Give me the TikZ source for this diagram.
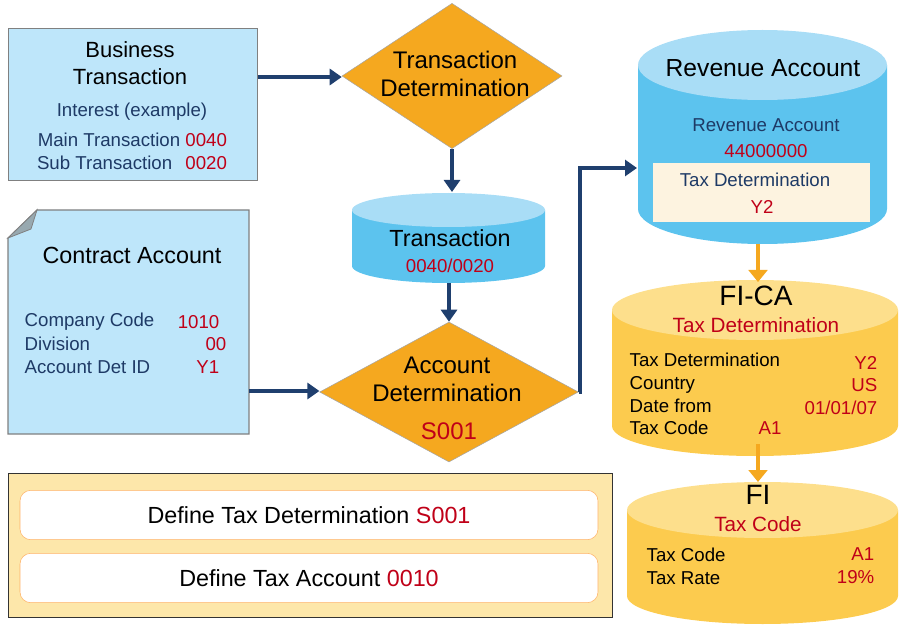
\documentclass[tikz,border=0pt]{standalone}
\usepackage{fontspec}
\setmainfont{Liberation Sans}
\usetikzlibrary{arrows.meta,shapes.geometric}
\definecolor{lb}{HTML}{BEE6FA}
\definecolor{cb}{HTML}{5CC3EE}
\definecolor{cbt}{HTML}{A9DDF6}
\definecolor{org}{HTML}{F5A81F}
\definecolor{yl}{HTML}{FCCB4E}
\definecolor{ylt}{HTML}{FDDF8C}
\definecolor{nv}{HTML}{1F3F6E}
\definecolor{tx}{HTML}{1E3A66}
\definecolor{rd}{HTML}{C00018}
\definecolor{pan}{HTML}{FDE7AA}
\definecolor{cream}{HTML}{FDF3E0}
\newcommand{\rv}[1]{\textcolor{rd}{#1}}
\newcommand{\cyl}[7]{% cx rx ry ytop ybot bodycolor topcolor
  \fill[#6] (#1-#2,#4) -- (#1-#2,#5) arc[start angle=180,end angle=360,x radius=#2,y radius=#3] -- (#1+#2,#4) -- cycle;
  \fill[#7] (#1,#4) ellipse[x radius=#2,y radius=#3];}
\tikzset{
  big/.style={font=\fontsize{17.5}{20}\selectfont},
  med/.style={font=\fontsize{14}{16}\selectfont,text=tx},
  sm/.style={font=\fontsize{14}{17}\selectfont,text=tx},
  dia/.style={diamond,fill=org,draw=gray!70,aspect=1.5,inner sep=0pt},
  blue arrow/.style={draw=nv,line width=2.8pt,-{Triangle[length=9pt,width=12pt]}},
  org arrow/.style={draw=org,line width=2.8pt,-{Triangle[length=9pt,width=14pt]}},
}
\begin{document}
\begin{tikzpicture}[x=0.75pt,y=0.75pt]
\useasboundingbox (0,0) rectangle (904,626);
% Business transaction
\node[draw=gray,fill=lb,minimum width=186.75pt,minimum height=114pt,anchor=north west,line width=0.8pt] (bt) at (8,598) {};
\node[font=\fontsize{16.5}{20}\selectfont,align=center] at (130,563) {Business\\Transaction};
\node[med] at (132,514) {Interest (example)};
\node[med,align=right,font=\fontsize{14}{17}\selectfont] at (132,475) {Main Transaction \rv{0040}\\Sub Transaction\hspace{6pt} \rv{0020}};
% Contract account
\fill[lb,draw=gray,line width=0.8pt] (37,416) -- (249,416) -- (249,192) -- (8,192) -- (8,388) -- cycle;
\fill[gray!60!lb,draw=gray,line width=0.6pt] (37,416) -- (31,397) -- (8,388) -- cycle;
\coordinate (ca) at (249,235);
\node[big] at (132,371) {Contract Account};
\node[sm,anchor=west] at (20,304) {Company Code};
\node[sm,anchor=west] at (20,282) {Division};
\node[sm,anchor=west] at (20,259) {Account Det ID};
\node[sm,anchor=east] at (224,304) {\rv{1010}};
\node[sm,anchor=east] at (231,282) {\rv{00}};
\node[sm,anchor=east] at (224,259) {\rv{Y1}};
% Diamonds
\node[dia,minimum width=165pt,minimum height=109pt] (td) at (452,550) {};
\node[font=\fontsize{18}{21}\selectfont,align=center] at (455,552) {Transaction\\Determination};
\node[dia,minimum width=194pt,minimum height=105pt] (ad) at (449,234) {};
\node[font=\fontsize{18}{21}\selectfont,align=center] at (447,247) {Account\\Determination};
\node[font=\fontsize{18}{18}\selectfont,text=rd] at (449,195) {S001};
% Transaction cylinder
\cyl{448.5}{96.5}{17}{416}{360}{cb}{cbt}
\coordinate (trt) at (452,434);
\coordinate (trb) at (449,343);
\node[big] at (450,388) {Transaction};
\node[sm,text=rd] at (450,360) {0040/0020};
% Revenue account
\cyl{762.5}{124.5}{35}{561}{417}{cb}{cbt}
\node[font=\fontsize{18.5}{20}\selectfont] at (763,558) {Revenue Account};
\fill[cream] (653,463) rectangle (870,404);
\node[med] at (766,501) {Revenue Account};
\node[sm,text=rd] at (766,475) {44000000};
\node[med] at (755,446) {Tax Determination};
\node[sm,text=rd] at (762,419) {Y2};
\coordinate (rvl) at (637,458);
\coordinate (rvb) at (758,382);
% FI-CA
\cyl{755}{143}{30}{316}{200}{yl}{ylt}
\coordinate (fct) at (758,344);
\coordinate (fcb) at (758,182);
\node[font=\fontsize{21}{22}\selectfont] at (756,330) {FI-CA};
\node[text=rd,font=\fontsize{15.5}{17}\selectfont] at (756,301) {Tax Determination};
\node[anchor=west,align=left,font=\fontsize{14}{17}\selectfont] at (625,232) {Tax Determination\\Country\\Date from\\Tax Code};
\node[anchor=east,text=rd,align=right,font=\fontsize{14}{17}\selectfont] at (882,240.5) {Y2\\US\\01/01/07};
\node[text=rd,font=\fontsize{14}{17}\selectfont] at (770,198) {A1};
% FI
\cyl{762.5}{135.5}{28}{116}{30}{yl}{ylt}
\coordinate (fit) at (758,144);
\node[font=\fontsize{21}{22}\selectfont] at (758,131) {FI};
\node[text=rd,font=\fontsize{15.5}{17}\selectfont] at (758,102) {Tax Code};
\node[anchor=west,align=left,font=\fontsize{14}{17}\selectfont] at (642,60) {Tax Code\\Tax Rate};
\node[anchor=east,text=rd,align=right,font=\fontsize{14}{17}\selectfont] at (879,60) {A1\\19\%};
% Panel
\node[draw=black!80,fill=pan,minimum width=453pt,minimum height=108pt,anchor=north west,line width=0.8pt] (pn) at (8,153) {};
\node[draw=orange!60,fill=white,rounded corners=8pt,minimum width=433.5pt,minimum height=37pt,font=\fontsize{17.5}{19}\selectfont] (p1) at (309,111) {Define Tax Determination \rv{S001}};
\node[draw=orange!60,fill=white,rounded corners=8pt,minimum width=433.5pt,minimum height=37pt,font=\fontsize{17.5}{19}\selectfont] (p2) at (309,48) {Define Tax Account \rv{0010}};
% arrows
\draw[blue arrow] (bt.east |- 0,549) -- (td.west |- 0,549);
\draw[blue arrow] (td.south) -- (trt);
\draw[blue arrow] (trb) -- (ad.north);
\draw[blue arrow] (ca) -- (ad.west |- ca);
\draw[blue arrow] (ad.east) -- (580,234) -- (580,458) -- (rvl);
\draw[org arrow] (rvb) -- (fct);
\draw[org arrow] (fcb) -- (fit);
\end{tikzpicture}
\end{document}
